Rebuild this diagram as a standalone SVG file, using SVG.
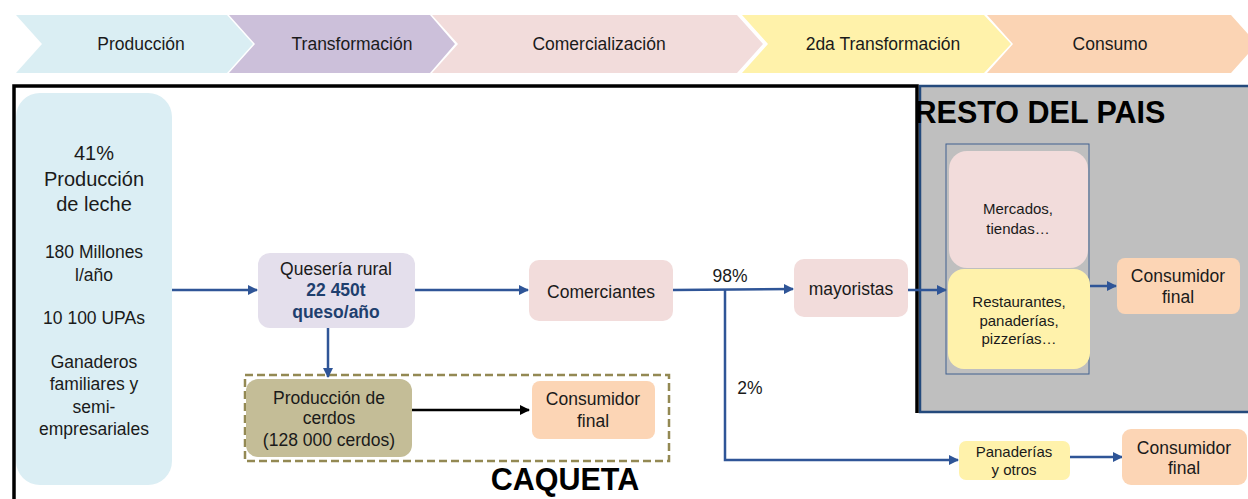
<svg xmlns="http://www.w3.org/2000/svg" width="1248" height="499" viewBox="0 0 1248 499">
<defs>
<marker id="ab" viewBox="0 0 10 10" refX="9" refY="5" markerWidth="4" markerHeight="4" orient="auto" markerUnits="strokeWidth"><path d="M0,0 L10,5 L0,10 z" fill="#2F5597"/></marker>
<marker id="ak" viewBox="0 0 10 10" refX="9" refY="5" markerWidth="4" markerHeight="4" orient="auto" markerUnits="strokeWidth"><path d="M0,0 L10,5 L0,10 z" fill="#000"/></marker>
<style>
text{font-family:"Liberation Sans",Arial,sans-serif;fill:#1a1a1a;text-anchor:middle}
.m{font-size:17.5px}
.l{font-size:20px}
.s{font-size:15px}
.b{font-weight:bold}
.nb{fill:#1F3F6E;font-weight:bold}
.big{font-size:30.5px;font-weight:bold;fill:#000}
.c{fill:none;stroke:#2F5597;stroke-width:2.5}
</style>
</defs>
<rect width="1248" height="499" fill="#fff"/>
<g id="stages">
<polygon points="16,15 227,15 253,44 227,73 16,73 42,44" fill="#DAEEF3"/>
<polygon points="229,15 430,15 455,44 430,73 229,73 255,44" fill="#CCC0DA"/>
<polygon points="432,15 737,15 763,44 737,73 432,73 458,44" fill="#F2DCDB"/>
<polygon points="742,15 984,15 1011,44 984,73 742,73 768,44" fill="#FFF2AA"/>
<polygon points="987,15 1231,15 1257,44 1231,73 987,73 1013,44" fill="#FBD4B4"/>
<text class="m" x="141" y="50">Producción</text>
<text class="m" x="352" y="50">Transformación</text>
<text class="m" x="599" y="50">Comercialización</text>
<text class="m" x="883" y="50">2da Transformación</text>
<text class="m" x="1110" y="50">Consumo</text>
</g>
<g id="resto-del-pais">
<rect x="920" y="86" width="340" height="326" fill="#BFBFBF" stroke="#244A7C" stroke-width="2.5"/>
</g>
<g id="frame">
<path d="M14,499 V86 H917 V413" fill="none" stroke="#000" stroke-width="3.5"/>
</g>
<g id="caqueta-box">
<rect x="245" y="375" width="424" height="86" fill="none" stroke="#938953" stroke-width="2.5" stroke-dasharray="8,4"/>
</g>
<g id="connectors">
<line class="c" x1="172" y1="290" x2="257" y2="290" marker-end="url(#ab)"/>
<line class="c" x1="415" y1="290" x2="528" y2="290" marker-end="url(#ab)"/>
<line class="c" x1="328" y1="328" x2="328" y2="377" marker-end="url(#ab)"/>
<line x1="412" y1="410" x2="529" y2="410" stroke="#000" stroke-width="2.5" marker-end="url(#ak)"/>
<line class="c" x1="673" y1="290" x2="793" y2="289" marker-end="url(#ab)"/>
<polyline class="c" points="725,290 725,460 958,460" marker-end="url(#ab)"/>
<line class="c" x1="908" y1="290" x2="946" y2="290" marker-end="url(#ab)"/>
<line class="c" x1="1090" y1="286" x2="1116" y2="286" marker-end="url(#ab)"/>
<line class="c" x1="1070" y1="457" x2="1122" y2="457" marker-end="url(#ab)"/>
<text class="m" x="730" y="282">98%</text>
<text class="m" x="750" y="394">2%</text>
</g>
<g id="productores">
<rect x="16" y="93" width="156" height="392" rx="24" fill="#DBEEF4"/>
<text class="l" x="94" y="160">41%</text>
<text class="l" x="94" y="186">Producción</text>
<text class="l" x="94" y="211">de leche</text>
<text class="m" x="94" y="258">180 Millones</text>
<text class="m" x="94" y="281">l/año</text>
<text class="m" x="94" y="324">10 100 UPAs</text>
<text class="m" x="94" y="368">Ganaderos</text>
<text class="m" x="94" y="390">familiares y</text>
<text class="m" x="94" y="413">semi-</text>
<text class="m" x="94" y="435">empresariales</text>
</g>
<g id="queseria">
<rect x="258" y="253" width="157" height="75" rx="12" fill="#E4DFEC"/>
<text class="m" x="336" y="275">Quesería rural</text>
<text class="m nb" x="336" y="296">22 450t</text>
<text class="m nb" x="336" y="318">queso/año</text>
</g>
<g id="comerciantes">
<rect x="529" y="260" width="144" height="61" rx="10" fill="#F2DCDB"/>
<text class="m" x="601" y="298">Comerciantes</text>
</g>
<g id="cerdos">
<rect x="246" y="379" width="166" height="78" rx="12" fill="#C4BD97"/>
<text class="m" x="329" y="404">Producción de</text>
<text class="m" x="329" y="424">cerdos</text>
<text class="m" x="329" y="446">(128 000 cerdos)</text>
</g>
<g id="consumidor-caqueta">
<rect x="532" y="381" width="123" height="58" rx="8" fill="#FCD5B5"/>
<text class="m" x="593" y="405">Consumidor</text>
<text class="m" x="593" y="427">final</text>
</g>
<text class="big" x="565" y="490">CAQUETA</text>
<g id="mayoristas">
<rect x="794" y="259" width="114" height="58" rx="10" fill="#F2DCDB"/>
<text class="m" x="851" y="295">mayoristas</text>
</g>
<text class="big" x="1040" y="123">RESTO DEL PAIS</text>
<g id="segunda-transformacion">
<rect x="946" y="144" width="143" height="230" fill="none" stroke="#41608F" stroke-width="1"/>
</g>
<g id="mercados">
<rect x="949" y="151" width="139" height="117" rx="18" fill="#F2DCDB"/>
<text class="s" x="1018" y="214">Mercados,</text>
<text class="s" x="1018" y="234">tiendas…</text>
</g>
<g id="restaurantes">
<rect x="948" y="269" width="142" height="100" rx="16" fill="#FFF2AB"/>
<text class="s" x="1019" y="307">Restaurantes,</text>
<text class="s" x="1019" y="326">panaderías,</text>
<text class="s" x="1019" y="344">pizzerías…</text>
</g>
<g id="consumidor-resto">
<rect x="1117" y="258" width="123" height="56" rx="8" fill="#FCD5B5"/>
<text class="m" x="1178" y="282">Consumidor</text>
<text class="m" x="1178" y="303">final</text>
</g>
<g id="panaderias">
<rect x="959" y="441" width="111" height="39" rx="7" fill="#FFF2AB"/>
<text class="s" x="1014" y="457">Panaderías</text>
<text class="s" x="1014" y="475">y otros</text>
</g>
<g id="consumidor-bottom">
<rect x="1122" y="429" width="125" height="56" rx="9" fill="#FCD5B5"/>
<text class="m" x="1184" y="454">Consumidor</text>
<text class="m" x="1184" y="474">final</text>
</g>
</svg>
